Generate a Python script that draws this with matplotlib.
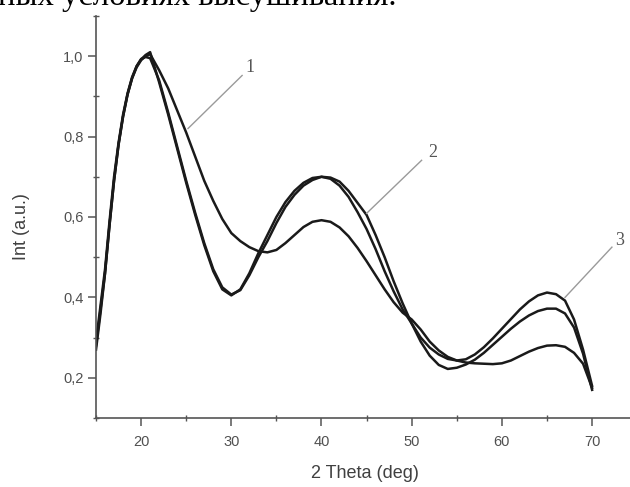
import matplotlib
matplotlib.use('Agg')
import matplotlib.pyplot as plt
from matplotlib.ticker import MultipleLocator, FuncFormatter

# 2 Theta grid, deg
theta = [15, 15.5, 16, 16.5, 17, 17.5, 18, 18.5, 19, 19.5, 20, 20.5, 21, 22, 23, 24,
         25, 26, 27, 28, 29, 30, 31, 32, 33, 34, 35, 36, 37, 38, 39, 40, 41, 42,
         43, 44, 45, 46, 47, 48, 49, 50, 51, 52, 53, 54, 55, 56, 57, 58, 59, 60,
         61, 62, 63, 64, 65, 66, 67, 68, 69, 70]

# curve 1 - broad first peak
int1 = [0.28, 0.37, 0.46, 0.58, 0.69, 0.78, 0.85, 0.905, 0.945, 0.972, 0.99, 1.0,
        1.005, 0.965, 0.92, 0.865, 0.81, 0.75, 0.69, 0.64, 0.595, 0.56, 0.54, 0.525,
        0.515, 0.512, 0.518, 0.535, 0.555, 0.575, 0.588, 0.592, 0.588, 0.574, 0.552,
        0.523, 0.49, 0.455, 0.42, 0.388, 0.362, 0.345, 0.32, 0.29, 0.268, 0.252,
        0.243, 0.238, 0.236, 0.235, 0.234, 0.236, 0.243, 0.254, 0.265, 0.274, 0.28,
        0.281, 0.277, 0.262, 0.235, 0.175]

# curve 2
int2 = [0.27, 0.36, 0.46, 0.58, 0.69, 0.78, 0.85, 0.905, 0.945, 0.975, 0.993, 0.998,
        0.995, 0.94, 0.86, 0.775, 0.69, 0.61, 0.535, 0.47, 0.425, 0.407, 0.418, 0.455,
        0.5, 0.54, 0.585, 0.625, 0.655, 0.678, 0.692, 0.70, 0.698, 0.688, 0.665,
        0.635, 0.605, 0.555, 0.5, 0.44, 0.385, 0.335, 0.29, 0.255, 0.232, 0.222,
        0.225, 0.233, 0.245, 0.262, 0.282, 0.302, 0.322, 0.34, 0.355, 0.366, 0.372,
        0.372, 0.36, 0.325, 0.26, 0.17]

# curve 3
int3 = [0.29, 0.38, 0.47, 0.59, 0.70, 0.785, 0.855, 0.908, 0.948, 0.975, 0.992, 1.003,
        1.01, 0.935, 0.855, 0.77, 0.685, 0.605, 0.53, 0.465, 0.42, 0.405, 0.42, 0.46,
        0.51, 0.555, 0.6, 0.637, 0.665, 0.685, 0.697, 0.70, 0.695, 0.678, 0.65,
        0.612, 0.57, 0.52, 0.465, 0.415, 0.37, 0.335, 0.3, 0.275, 0.258, 0.247,
        0.243, 0.246, 0.258, 0.276, 0.298, 0.322, 0.346, 0.37, 0.39, 0.405, 0.412,
        0.408, 0.392, 0.345, 0.27, 0.18]

# curve labels: text position, leader start, leader end
labels = ['1', '2', '3']
label_xy = [(32.1, 0.972), (52.3, 0.761), (73.1, 0.542)]
leader_from = [(31.2, 0.952), (51.1, 0.741), (72.2, 0.525)]
leader_to = [(25.2, 0.82), (45.0, 0.609), (67.0, 0.40)]

fig = plt.figure(figsize=(6.3, 4.87), dpi=100)
ax = fig.add_axes([0.1524, 0.1417, 0.859, 0.8255])

for y in (int1, int2, int3):
    ax.plot(theta, y, color='#1a1a1a', lw=1.8, solid_joinstyle='round')

for lab, (tx, ty), (x0, y0), (x1, y1) in zip(labels, label_xy, leader_from, leader_to):
    ax.plot([x0, x1], [y0, y1], color='#9a9a9a', lw=1.0, clip_on=False)
    ax.text(tx, ty, lab, family='Liberation Serif', fontsize=13, color='#555555',
            ha='center', va='center', clip_on=False)

ax.set_xlim(15, 75)
ax.set_ylim(0.1, 1.1)
for s in ('top', 'right'):
    ax.spines[s].set_visible(False)
for s in ('left', 'bottom'):
    ax.spines[s].set_color('#555555')
    ax.spines[s].set_linewidth(1.2)

ax.xaxis.set_minor_locator(MultipleLocator(5))
ax.yaxis.set_minor_locator(MultipleLocator(0.1))
ax.set_xticks([20, 30, 40, 50, 60, 70])
ax.set_yticks([0.2, 0.4, 0.6, 0.8, 1.0])
ax.yaxis.set_major_formatter(FuncFormatter(lambda v, p: ('%.1f' % v).replace('.', ',')))
ax.tick_params(which='major', direction='out', length=6, width=1.1, color='#555555',
               labelsize=10.5, labelcolor='#505050')
ax.tick_params(axis='x', which='major', pad=6)
ax.tick_params(axis='y', which='major', pad=3)
ax.tick_params(which='minor', direction='inout', length=4, width=1.0, color='#555555')

ax.set_xlabel('2 Theta (deg)', fontsize=13, color='#404040', family='Liberation Sans')
ax.set_ylabel('Int (a.u.)', fontsize=13, color='#404040', family='Liberation Sans')
ax.xaxis.set_label_coords(0.497, -0.118)
ax.yaxis.set_label_coords(-0.122, 0.475)
for t in ax.get_xticklabels() + ax.get_yticklabels():
    t.set_family('Liberation Sans')

# clipped line of document text above the chart
fig.text(-0.003, 1 - 5 / 487, 'ных условиях высушивания.', family='Liberation Serif',
         fontsize=23.5, color='black', ha='left', va='baseline')

fig.savefig('out.png', dpi=100)
